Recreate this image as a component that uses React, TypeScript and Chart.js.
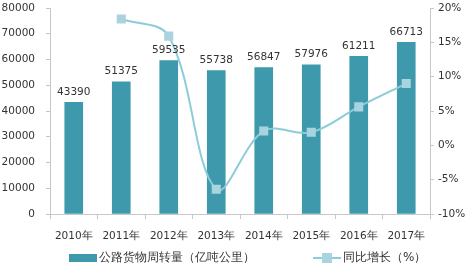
import React, { useEffect, useRef } from "react";
import { Chart, registerables } from "chart.js";

Chart.register(...registerables);

const categories = ["2010年", "2011年", "2012年", "2013年", "2014年", "2015年", "2016年", "2017年"];
const volume = [43390, 51375, 59535, 55738, 56847, 57976, 61211, 66713];
const growth = [null, 18.4, 15.9, -6.4, 2.1, 1.9, 5.6, 9.0];
const leftTicks = [0, 10000, 20000, 30000, 40000, 50000, 60000, 70000, 80000];
const rightTicks = [-10, -5, 0, 5, 10, 15, 20];
const barLabel = "公路货物周转量（亿吨公里）";
const lineLabel = "同比增长（%）";

const FONT = "'DejaVu Sans', Verdana, sans-serif";
const BAR_COLOR = "#3d99ab";
const LINE_COLOR = "#8ccbd8";
const POINT_COLOR = "#a8d3df";
const TEXT = "#333333";

export default function App() {
  const ref = useRef<HTMLCanvasElement | null>(null);
  useEffect(() => {
    if (!ref.current) return;
    const labelPlugin = {
      id: "labels",
      afterDatasetsDraw(chart: any) {
        const ctx = chart.ctx;
        const meta = chart.getDatasetMeta(0);
        ctx.save();
        ctx.font = `10.5px ${FONT}`;
        ctx.fillStyle = TEXT;
        ctx.textAlign = "center";
        ctx.textBaseline = "bottom";
        meta.data.forEach((el: any, i: number) => {
          ctx.fillText(String(volume[i]), el.x, el.y - 5);
        });
        ctx.restore();
      },
      afterDraw(chart: any) {
        const ctx = chart.ctx;
        ctx.save();
        const y = 258;
        ctx.font = `12px ${FONT}`;
        ctx.textBaseline = "middle";
        ctx.fillStyle = BAR_COLOR;
        ctx.fillRect(69, y - 4, 28, 8);
        ctx.fillStyle = TEXT;
        ctx.textAlign = "left";
        ctx.fillText(barLabel, 99, y);
        ctx.strokeStyle = LINE_COLOR;
        ctx.lineWidth = 2;
        ctx.beginPath();
        ctx.moveTo(313, y);
        ctx.lineTo(341, y);
        ctx.stroke();
        ctx.fillStyle = POINT_COLOR;
        ctx.fillRect(322, y - 5, 10, 10);
        ctx.fillStyle = TEXT;
        ctx.fillText(lineLabel, 343, y);
        ctx.restore();
      },
    };
    const fitY = (w: number) => (s: any) => {
      s.width = w;
      s.paddingTop = 0;
      s.paddingBottom = 0;
    };
    const chart = new Chart(ref.current, {
      type: "bar",
      data: {
        labels: categories,
        datasets: [
          {
            type: "bar",
            label: barLabel,
            data: volume,
            backgroundColor: BAR_COLOR,
            barThickness: 18,
            yAxisID: "y",
            order: 2,
          },
          {
            type: "line",
            label: lineLabel,
            data: growth as any,
            borderColor: LINE_COLOR,
            borderWidth: 2,
            tension: 0.35,
            pointStyle: "rect",
            pointRadius: 5,
            pointBackgroundColor: POINT_COLOR,
            pointBorderColor: POINT_COLOR,
            yAxisID: "y1",
            order: 1,
          },
        ],
      },
      options: {
        animation: false,
        responsive: false,
        layout: { padding: { top: 8, bottom: 23, left: 0, right: 0 } },
        plugins: { legend: { display: false }, tooltip: { enabled: false } },
        scales: {
          x: {
            grid: { drawOnChartArea: false, drawTicks: true, tickLength: 5, color: "#c8c8c8", offset: true },
            border: { color: "#c8c8c8" },
            ticks: { font: { family: FONT, size: 10.5 }, color: TEXT, padding: 11, maxRotation: 0 },
            afterFit(s: any) { s.height = 34; s.paddingLeft = 0; s.paddingRight = 0; },
          },
          y: {
            position: "left",
            min: 0,
            max: 80000,
            afterBuildTicks(s: any) { s.ticks = leftTicks.map((v) => ({ value: v })); },
            grid: { drawOnChartArea: false, tickLength: 4, color: "#c8c8c8" },
            border: { color: "#c8c8c8" },
            ticks: { font: { family: FONT, size: 10.5 }, color: TEXT, padding: 11, callback: (v: any) => String(v) },
            afterFit: fitY(50),
          },
          y1: {
            position: "right",
            min: -10,
            max: 20,
            afterBuildTicks(s: any) { s.ticks = rightTicks.map((v) => ({ value: v })); },
            grid: { drawOnChartArea: false, tickLength: 4, color: "#c8c8c8" },
            border: { color: "#c8c8c8" },
            ticks: { font: { family: FONT, size: 10.5 }, color: TEXT, padding: 4, callback: (v: any) => v + "%" },
            afterFit: fitY(35),
          },
        },
      },
      plugins: [labelPlugin],
    });
    return () => chart.destroy();
  }, []);
  return (
    <div style={{ position: "fixed", left: 0, top: 0, width: 465, height: 271, background: "#fff" }}>
      <canvas ref={ref} width={465} height={271} style={{ width: 465, height: 271 }} />
    </div>
  );
}
